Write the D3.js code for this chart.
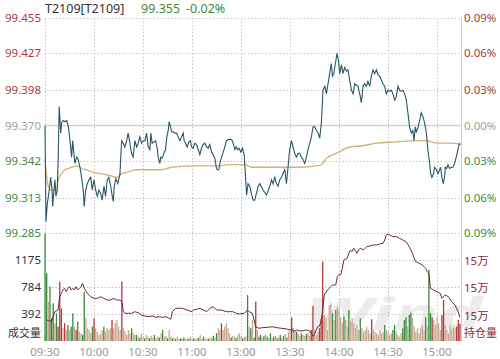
<!DOCTYPE html>
<html><head><meta charset="utf-8">
<script src="https://cdn.jsdelivr.net/npm/d3@7"></script>
<style>
html,body{margin:0;padding:0;background:#fff;}
svg{display:block;font-family:"Noto Sans","Noto Sans CJK SC",sans-serif;}
</style></head>
<body><svg id="c" width="500" height="359"></svg>
<script>
// ---------- data ----------
const title = "T2109[T2109]";
const lastPrice = "99.355";
const lastChange = "-0.02%";
const timeTicks = [0, 30, 60, 90, 120, 150, 180, 210, 240];
const timeLabels = ["09:30","10:00","10:30","11:00","13:00","13:30","14:00","14:30","15:00"];
const priceTicks = [99.455, 99.427, 99.398, 99.370, 99.342, 99.313, 99.285];
const pctLabels = ["0.09%","0.06%","0.03%","0.00%","0.03%","0.06%","0.09%"];
const prevClose = 99.370;
const volTicks = [1175, 784, 392];
const oiTicks = [152000, 151000, 150000];
const oiLabels = ["15万","15万","15万"];

// minute offset from 09:30 (trading minutes), price
const priceSeries = [
[0,99.370],[0.6,99.294],[1.4,99.308],[2.6,99.319],[3.5,99.329],[4.3,99.319],[4.7,99.306],[5.5,99.319],[6.1,99.327],[6.7,99.314],
[7.5,99.319],[8.1,99.345],[8.7,99.385],[9.6,99.364],[10.2,99.372],[11.2,99.374],[12.2,99.373],[13.3,99.374],[14.3,99.369],[15.3,99.358],
[16.3,99.345],[16.9,99.358],[17.7,99.348],[18.3,99.340],[19.4,99.345],[20.4,99.343],[21.4,99.337],[22.4,99.329],[23.4,99.319],[24.0,99.306],
[24.9,99.319],[25.9,99.324],[26.9,99.327],[28.0,99.329],[28.9,99.319],[30.0,99.327],[31.0,99.319],[32.0,99.314],[33.0,99.319],[34.1,99.316],
[35.0,99.311],[36.1,99.322],[37.1,99.314],[38.1,99.327],[39.1,99.329],[40.2,99.322],[41.2,99.314],[41.8,99.310],[42.4,99.322],[43.4,99.328],
[44.6,99.324],[45.9,99.332],[46.9,99.358],[47.9,99.356],[48.9,99.353],[50.0,99.358],[50.9,99.364],[52.0,99.356],[53.0,99.348],[54.0,99.345],
[55.0,99.358],[56.1,99.353],[57.1,99.356],[58.1,99.361],[59.1,99.356],[60.1,99.358],[61.2,99.358],[62.2,99.364],[63.2,99.353],[64.2,99.351],
[64.8,99.364],[65.6,99.356],[66.7,99.357],[67.7,99.358],[68.7,99.352],[69.3,99.345],[70.3,99.340],[70.9,99.345],[71.7,99.344],[72.8,99.348],
[73.8,99.351],[74.6,99.361],[75.4,99.366],[76.0,99.373],[76.9,99.369],[77.5,99.365],[78.5,99.365],[79.5,99.364],[80.6,99.364],[81.5,99.361],
[82.6,99.358],[83.6,99.361],[84.6,99.364],[85.2,99.358],[86.1,99.356],[87.0,99.353],[88.1,99.357],[89.1,99.358],[89.7,99.353],[90.7,99.352],
[91.7,99.356],[92.8,99.355],[93.8,99.351],[94.8,99.347],[95.8,99.352],[96.8,99.355],[97.9,99.356],[98.9,99.353],[99.9,99.352],[100.9,99.355],
[102.0,99.349],[102.9,99.347],[104.0,99.344],[105.0,99.336],[105.6,99.335],[106.4,99.335],[107.2,99.341],[108.1,99.345],[109.1,99.349],[110.1,99.353],
[111.1,99.358],[112.5,99.359],[113.8,99.359],[114.6,99.358],[115.4,99.355],[116.2,99.351],[117.0,99.353],[117.9,99.351],[118.8,99.352],[119.9,99.349],
[120.9,99.352],[121.9,99.347],[122.8,99.329],[123.4,99.315],[124.3,99.324],[125.4,99.322],[126.4,99.316],[127.4,99.311],[128.4,99.311],[130.5,99.322],
[131.5,99.324],[133.5,99.319],[135.6,99.315],[137.6,99.322],[138.7,99.327],[139.6,99.324],[140.7,99.329],[141.7,99.324],[142.7,99.322],[143.7,99.327],
[144.8,99.329],[145.7,99.332],[146.8,99.335],[147.8,99.324],[148.8,99.337],[149.8,99.351],[150.9,99.358],[151.9,99.353],[152.9,99.348],[153.9,99.345],
[154.9,99.348],[156.0,99.348],[157.0,99.345],[158.0,99.343],[159.0,99.340],[160.1,99.345],[161.0,99.351],[162.1,99.356],[163.1,99.361],[164.1,99.369],
[165.1,99.369],[166.2,99.366],[167.2,99.364],[168.2,99.360],[169.2,99.372],[170.2,99.398],[171.3,99.401],[172.3,99.395],[173.3,99.403],[174.3,99.411],
[175.3,99.419],[176.0,99.409],[176.8,99.411],[177.8,99.419],[178.8,99.427],[179.6,99.422],[180.4,99.411],[181.5,99.418],[182.4,99.411],[183.5,99.416],
[184.5,99.413],[185.5,99.414],[186.5,99.406],[187.6,99.398],[188.6,99.395],[189.6,99.403],[191.6,99.401],[192.7,99.395],[193.7,99.388],[194.7,99.401],
[195.7,99.403],[196.8,99.401],[197.7,99.405],[198.8,99.401],[199.8,99.409],[200.8,99.414],[201.8,99.411],[202.9,99.414],[203.9,99.410],[204.9,99.409],
[205.9,99.406],[206.9,99.403],[208.0,99.401],[209.0,99.395],[210.0,99.398],[211.0,99.397],[212.0,99.398],[213.0,99.395],[214.1,99.390],[215.1,99.393],
[216.1,99.401],[217.1,99.398],[218.2,99.397],[219.1,99.398],[220.2,99.395],[221.2,99.390],[222.2,99.380],[223.2,99.369],[224.3,99.364],[225.2,99.366],
[225.9,99.358],[226.7,99.369],[227.3,99.365],[228.3,99.368],[229.4,99.374],[230.4,99.380],[231.4,99.377],[232.4,99.372],[233.5,99.364],[234.4,99.351],
[235.5,99.340],[236.1,99.332],[236.9,99.329],[237.9,99.332],[238.5,99.337],[239.6,99.335],[240.6,99.332],[241.6,99.335],[242.2,99.337],[243.0,99.329],
[243.8,99.324],[244.6,99.329],[245.1,99.337],[245.9,99.336],[246.7,99.339],[247.7,99.336],[248.8,99.337],[249.8,99.337],[250.8,99.340],[251.8,99.345],
[252.8,99.351],[253.8,99.356]
];

const avgSeries = [
[0,99.343],[2.0,99.322],[4.1,99.319],[7.2,99.319],[8.1,99.327],[10.2,99.332],[12.2,99.335],[14.3,99.336],[16.3,99.337],[19.4,99.338],
[21.4,99.337],[22.4,99.336],[25.5,99.335],[29.5,99.333],[33.6,99.332],[37.7,99.331],[40.8,99.330],[44.8,99.329],[46.9,99.332],[50.0,99.333],
[56.1,99.335],[64.2,99.335],[71.4,99.335],[77.5,99.337],[91.7,99.338],[105.8,99.338],[111.9,99.339],[122.3,99.339],[126.6,99.337],[129.5,99.337],
[147.8,99.337],[156.0,99.337],[166.2,99.338],[169.2,99.339],[172.3,99.344],[178.4,99.348],[186.5,99.353],[194.5,99.354],[202.9,99.356],[215.1,99.357],
[227.3,99.358],[233.5,99.358],[239.6,99.356],[247.7,99.356],[254.9,99.355]
];

// minute, volume, colour code (G = green, R = red, T = tan)
const volSeries = [
[0,1560,"G"],[1,982,"G"],[2,570,"T"],[3,788,"G"],[4,329,"R"],[5,547,"G"],[6,257,"T"],[7,402,"G"],[8,208,"R"],[9,861,"R"],
[10,474,"R"],[11,184,"T"],[12,257,"R"],[13,160,"T"],[14,232,"G"],[15,160,"T"],[16,208,"G"],[17,402,"G"],[18,208,"T"],[19,160,"R"],
[20,280,"G"],[21,135,"T"],[22,112,"T"],[23,87,"G"],[24,715,"G"],[25,329,"T"],[26,184,"T"],[27,160,"T"],[28,112,"T"],[29,208,"G"],
[30,329,"R"],[31,184,"T"],[32,135,"T"],[33,87,"T"],[34,112,"T"],[35,160,"T"],[36,208,"G"],[37,135,"T"],[38,184,"T"],[39,160,"T"],
[40,184,"T"],[41,305,"R"],[42,184,"T"],[43,257,"T"],[44,305,"T"],[45,208,"T"],[46,160,"T"],[47,861,"R"],[48,184,"T"],[49,135,"T"],
[50,87,"T"],[51,160,"T"],[52,112,"T"],[53,184,"G"],[54,112,"T"],[55,87,"T"],[56,87,"G"],[57,63,"T"],[58,50,"G"],[59,112,"T"],
[60,63,"T"],[61,40,"G"],[62,87,"T"],[63,63,"T"],[64,40,"G"],[65,75,"T"],[66,50,"T"],[67,87,"G"],[68,40,"T"],[69,63,"T"],
[70,50,"G"],[71,112,"T"],[72,160,"G"],[73,63,"T"],[74,75,"T"],[75,40,"G"],[76,160,"T"],[77,63,"T"],[78,40,"G"],[79,50,"T"],
[80,30,"G"],[81,63,"T"],[82,30,"T"],[83,40,"G"],[84,30,"T"],[85,50,"G"],[86,30,"T"],[87,40,"T"],[88,30,"G"],[89,63,"T"],
[90,30,"T"],[91,40,"G"],[92,30,"T"],[93,50,"T"],[94,40,"G"],[95,87,"T"],[96,30,"T"],[97,63,"G"],[98,30,"T"],[99,40,"T"],
[100,30,"G"],[101,50,"T"],[102,40,"T"],[103,75,"G"],[104,50,"T"],[105,112,"G"],[106,184,"T"],[107,160,"T"],[108,257,"R"],[109,160,"T"],
[110,208,"T"],[111,257,"T"],[112,184,"T"],[113,112,"T"],[114,50,"G"],[115,75,"T"],[116,63,"T"],[117,40,"G"],[118,87,"T"],[119,112,"T"],
[120,75,"T"],[121,40,"G"],[122,63,"T"],[123,63,"T"],[124,667,"G"],[125,208,"T"],[126,184,"G"],[127,305,"T"],[128,50,"G"],[129,570,"R"],
[130,160,"T"],[131,63,"G"],[132,87,"G"],[133,45,"T"],[134,75,"G"],[135,97,"T"],[136,63,"G"],[137,40,"T"],[138,112,"G"],[139,45,"T"],
[140,63,"G"],[141,75,"T"],[142,40,"G"],[143,50,"T"],[144,87,"G"],[145,45,"T"],[146,75,"G"],[147,102,"T"],[148,50,"G"],[149,135,"T"],
[150,160,"T"],[151,344,"R"],[152,184,"T"],[153,160,"T"],[154,135,"G"],[155,102,"T"],[156,75,"T"],[157,112,"G"],[158,87,"T"],[159,75,"T"],
[160,102,"G"],[161,112,"T"],[162,75,"T"],[163,160,"R"],[164,508,"R"],[165,160,"T"],[166,87,"T"],[167,135,"T"],[168,184,"R"],[169,315,"R"],
[170,1150,"R"],[171,377,"T"],[172,344,"T"],[173,160,"T"],[174,522,"T"],[175,547,"T"],[176,402,"G"],[177,305,"T"],[178,450,"G"],[179,498,"T"],
[180,450,"T"],[181,344,"T"],[182,257,"T"],[183,354,"G"],[184,305,"T"],[185,208,"T"],[186,450,"G"],[187,280,"T"],[188,329,"T"],[189,257,"T"],
[190,184,"T"],[191,232,"T"],[192,160,"T"],[193,329,"G"],[194,184,"T"],[195,135,"T"],[196,160,"T"],[197,208,"T"],[198,160,"T"],[199,112,"T"],
[200,315,"R"],[201,160,"T"],[202,135,"T"],[203,112,"T"],[204,87,"T"],[205,160,"T"],[206,112,"T"],[207,135,"T"],[208,232,"G"],[209,160,"T"],
[210,135,"T"],[211,87,"T"],[212,112,"T"],[213,160,"G"],[214,232,"G"],[215,135,"T"],[216,87,"T"],[217,63,"T"],[218,112,"T"],[219,184,"G"],
[220,305,"G"],[221,344,"G"],[222,208,"T"],[223,377,"G"],[224,411,"G"],[225,329,"T"],[226,208,"T"],[227,135,"T"],[228,184,"T"],[229,112,"T"],
[230,184,"T"],[231,232,"T"],[232,160,"T"],[233,344,"G"],[234,208,"T"],[235,1030,"G"],[236,402,"G"],[237,344,"R"],[238,305,"T"],[239,232,"T"],
[240,344,"T"],[241,257,"T"],[242,160,"T"],[243,377,"R"],[244,595,"R"],[245,232,"T"],[246,160,"T"],[247,112,"T"],[248,232,"T"],[249,160,"T"],
[250,208,"T"],[251,184,"T"],[252,208,"R"],[253,305,"R"],[254,250,"R"]
];

// minute, open interest (lots)
const oiSeries = [
[1,149836],[4,149776],[6,150139],[8,150200],[9,150684],[10,150807],[11,150927],[12,150989],[13,150866],[14,150989],
[15,151047],[16,150927],[17,150989],[18,150927],[19,151047],[20,150927],[21,150989],[22,151047],[23,151171],[24,150989],
[26,150807],[27,150745],[28,150684],[30,150625],[32,150625],[34,150684],[36,150625],[38,150563],[40,150563],[42,150625],
[44,150563],[46,150563],[47,150502],[48,150139],[49,150080],[51,150080],[53,150080],[55,150139],[57,150102],[59,150018],
[61,149982],[63,149956],[66,149982],[68,149934],[70,149956],[72,149934],[74,149956],[76,149898],[77,149862],[78,150139],
[79,150200],[80,150262],[82,150262],[84,150262],[87,150200],[90,150139],[91,150200],[93,150225],[95,150262],[97,150200],
[99,150139],[101,150262],[103,150320],[105,150200],[108,150200],[111,150139],[115,150139],[117,150080],[119,150054],[122,150080],
[124,150200],[125,150139],[127,150080],[128,149836],[129,149593],[131,149533],[133,149557],[136,149569],[139,149593],[142,149557],
[145,149533],[148,149509],[150,149473],[151,149533],[152,149412],[154,149473],[156,149436],[158,149448],[160,149473],[162,149436],
[163,149351],[164,149254],[165,149291],[166,149473],[167,149593],[168,149618],[169,149776],[170,150200],[171,150745],[173,150927],
[174,150989],[176,151110],[178,151110],[179,151413],[180,151474],[181,151474],[182,151716],[183,152019],[185,152080],[186,152262],
[187,152383],[188,152322],[189,152444],[190,152359],[191,152262],[192,152383],[193,152444],[195,152383],[197,152504],[199,152529],
[201,152565],[203,152565],[205,152601],[207,152626],[208,152747],[209,152929],[210,152965],[211,152929],[213,152868],[215,152868],
[217,152808],[219,152747],[221,152686],[223,152504],[225,152262],[226,152080],[227,151959],[229,151898],[231,151838],[233,151716],
[234,151595],[235,151534],[236,150989],[238,150927],[240,150866],[242,150807],[243,150625],[245,150745],[247,150684],[249,150502],
[251,150383],[253,150139],[254,149934]
];

// ---------- drawing ----------
const svg = d3.select("#c");
const L = 45, R = 461.5;
const x = d3.scaleLinear().domain([0, 255]).range([L, R]);
const yP = d3.scaleLinear().domain([99.285, 99.455]).range([233, 18]);
const yV = d3.scaleLinear().domain([0, 1567]).range([341, 233]);
const yO = d3.scaleLinear().domain([149000, 153000]).range([343, 233]);

const red = "#a83a3a", green = "#3f8a3f", gray = "#a0a0a0";
const barCol = {G: "#3a8a3a", R: "#b23a3a", T: "#c8a892"};

// watermark
svg.append("text").attr("x", 306).attr("y", 330).text("Wind")
  .attr("font-size", 44).attr("font-weight", "bold").attr("font-style","italic")
  .attr("textLength", 176).attr("lengthAdjust", "spacingAndGlyphs").attr("fill", "#ececec");

const grid = svg.append("g").attr("stroke", "#c4c4c4").attr("stroke-width", 1)
  .attr("stroke-dasharray", "1.5,2").attr("fill", "none");
// horizontal grid (price panel)
priceTicks.forEach(t => {
  if (Math.abs(t - prevClose) < 1e-6) return;
  const yy = Math.round(yP(t)) + 0.5;
  grid.append("line").attr("x1", L).attr("x2", R).attr("y1", yy).attr("y2", yy);
});
volTicks.forEach(t => {
  const yy = Math.round(yV(t)) + 0.5;
  grid.append("line").attr("x1", L).attr("x2", R).attr("y1", yy).attr("y2", yy);
});
// vertical grid
timeTicks.forEach(t => {
  const xx = Math.round(x(t)) + 0.5;
  grid.append("line").attr("x1", xx).attr("x2", xx).attr("y1", 18).attr("y2", 341);
});
// prev close line
svg.append("line").attr("x1", L).attr("x2", R)
  .attr("y1", yP(prevClose)).attr("y2", yP(prevClose))
  .attr("stroke", "#d2d2d2").attr("stroke-width", 1.6);
// right border
svg.append("line").attr("x1", R).attr("x2", R).attr("y1", 18).attr("y2", 341)
  .attr("stroke", "#cfcfcf").attr("stroke-width", 1);

// volume bars
svg.append("g").selectAll("rect").data(volSeries).join("rect")
  .attr("x", d => x(d[0]) - 0.6)
  .attr("width", 1.3)
  .attr("y", d => yV(d[1]))
  .attr("height", d => yV(0) - yV(d[1]))
  .attr("fill", d => barCol[d[2]]);

// open interest line
svg.append("path").datum(oiSeries)
  .attr("d", d3.line().x(d => x(d[0])).y(d => yO(d[1])))
  .attr("fill", "none").attr("stroke", "#6e2a3a").attr("stroke-width", 1);

// average price line
svg.append("path").datum(avgSeries)
  .attr("d", d3.line().curve(d3.curveMonotoneX).x(d => x(d[0])).y(d => yP(d[1])))
  .attr("fill", "none").attr("stroke", "#d1b07a").attr("stroke-width", 1.3);

// price line
svg.append("path").datum(priceSeries)
  .attr("d", d3.line().x(d => x(d[0])).y(d => yP(d[1])))
  .attr("fill", "none").attr("stroke", "#2a5666").attr("stroke-width", 1.1);

// left price labels
const fs = 11.5;
priceTicks.forEach(t => {
  const c = t > prevClose + 1e-6 ? red : (t < prevClose - 1e-6 ? green : gray);
  svg.append("text").attr("x", 41).attr("y", yP(t)).attr("dy", "0.35em")
    .attr("text-anchor", "end").attr("font-size", fs).attr("fill", c).text(t.toFixed(3));
});
priceTicks.forEach((t, i) => {
  const c = t > prevClose + 1e-6 ? red : (t < prevClose - 1e-6 ? green : gray);
  svg.append("text").attr("x", 464).attr("y", yP(t)).attr("dy", "0.35em")
    .attr("text-anchor", "start").attr("font-size", fs).attr("fill", c).text(pctLabels[i]);
});
// volume labels
volTicks.forEach(t => {
  svg.append("text").attr("x", 41).attr("y", yV(t)).attr("dy", "0.35em")
    .attr("text-anchor", "end").attr("font-size", fs).attr("fill", "#333").text(t);
});
svg.append("text").attr("x", 41).attr("y", 333).attr("dy", "0.35em")
  .attr("text-anchor", "end").attr("font-size", 11).attr("fill", "#333").text("成交量");
oiTicks.forEach((t, i) => {
  svg.append("text").attr("x", 464).attr("y", yO(t)).attr("dy", "0.35em")
    .attr("text-anchor", "start").attr("font-size", fs).attr("fill", "#8a2a3c").text(oiLabels[i]);
});
svg.append("text").attr("x", 464).attr("y", 333).attr("dy", "0.35em")
  .attr("text-anchor", "start").attr("font-size", 11).attr("fill", "#8a2a3c").text("持仓量");
// time labels
timeTicks.forEach((t, i) => {
  svg.append("text").attr("x", x(t)).attr("y", 352).attr("dy", "0.35em")
    .attr("text-anchor", "middle").attr("font-size", fs).attr("fill", "#9a9a9a").text(timeLabels[i]);
});
// title
svg.append("text").attr("x", 45).attr("y", 13).attr("font-size", 12.5).attr("fill", "#333").text(title);
svg.append("text").attr("x", 141).attr("y", 13).attr("font-size", 12.5).attr("fill", green).text(lastPrice);
svg.append("text").attr("x", 186).attr("y", 13).attr("font-size", 12.5).attr("fill", green).text(lastChange);
</script></body></html>
